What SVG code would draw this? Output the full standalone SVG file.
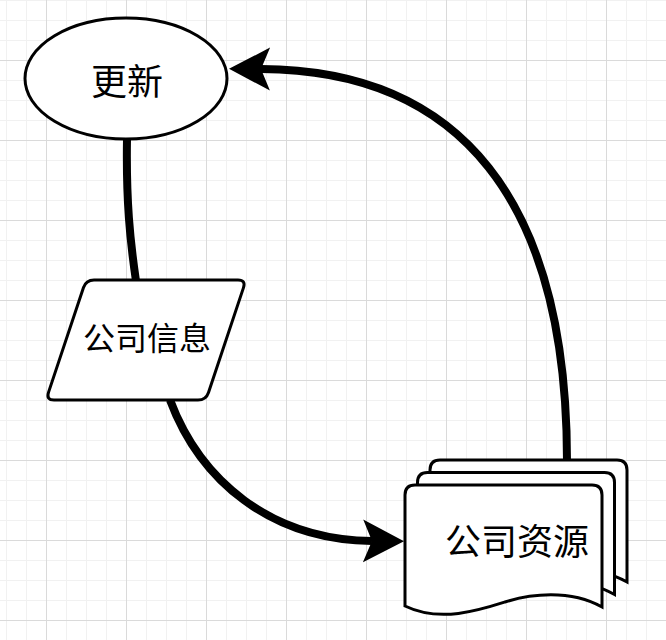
<svg xmlns="http://www.w3.org/2000/svg" xmlns:xlink="http://www.w3.org/1999/xlink" width="666" height="640" viewBox="0 0 666 640">
  <defs>
    <style>
      .shape { fill: #ffffff; stroke: #000000; stroke-width: 3; }
      .edge { fill: none; stroke: #000000; stroke-width: 8; }
      .label { font-family: "Noto Sans CJK SC", "Noto Sans", sans-serif; fill: #000000; text-anchor: middle; }
    </style>
    <pattern id="gridMinor" patternUnits="userSpaceOnUse" x="6" y="0" width="20" height="20">
      <rect x="0" y="0" width="1" height="20" fill="#f1f1f1"/>
      <rect x="0" y="0" width="20" height="1" fill="#f1f1f1"/>
    </pattern>
    <pattern id="gridMajor" patternUnits="userSpaceOnUse" x="46" y="60" width="80" height="80">
      <rect x="0" y="0" width="1" height="80" fill="#dadada"/>
      <rect x="0" y="0" width="80" height="1" fill="#dadada"/>
    </pattern>
    <marker id="arrow" markerUnits="userSpaceOnUse" viewBox="0 -22 42 44" markerWidth="42" markerHeight="44" refX="9" refY="0" orient="auto">
      <path d="M0,-21.5 L41,0 L0,21.5 L9,0 Z" fill="#000000"/>
    </marker>
    <path id="docPage" d="M0,10 Q0,0 10,0 H187 Q197,0 197,10 V122 C165,104 125,109 100,117 C75,125 35,138 0,121 Z"/>
  </defs>

  <rect x="0" y="0" width="666" height="640" fill="#ffffff"/>
  <rect x="0" y="0" width="666" height="640" fill="url(#gridMinor)"/>
  <rect x="0" y="0" width="666" height="640" fill="url(#gridMajor)"/>

  <g id="connectors">
    <path class="edge" d="M127,139 C126,200 130,240 136,281"/>
    <path class="edge" d="M170,400 C200,480 270,540 372,541" marker-end="url(#arrow)"/>
    <path class="edge" d="M567,461 C567,200 460,70 261,69" marker-end="url(#arrow)"/>
  </g>

  <g id="node-update">
    <ellipse class="shape" cx="126" cy="78.5" rx="101" ry="60.5"/>
    <text class="label" x="127" y="95" font-size="36">更新</text>
  </g>

  <g id="node-company-info">
    <path class="shape" d="M94,280 H238 Q246,280 243.5,287.6 L208.5,392.4 Q206,400 198,400 H54 Q46,400 48.5,392.4 L83.5,287.6 Q86,280 94,280 Z"/>
    <text class="label" x="147" y="350" font-size="32">公司信息</text>
  </g>

  <g id="node-company-resources">
    <use xlink:href="#docPage" class="shape" transform="translate(430,460)"/>
    <use xlink:href="#docPage" class="shape" transform="translate(417.5,472.5)"/>
    <use xlink:href="#docPage" class="shape" transform="translate(405,485)"/>
    <text class="label" x="517" y="555" font-size="36">公司资源</text>
  </g>
</svg>
